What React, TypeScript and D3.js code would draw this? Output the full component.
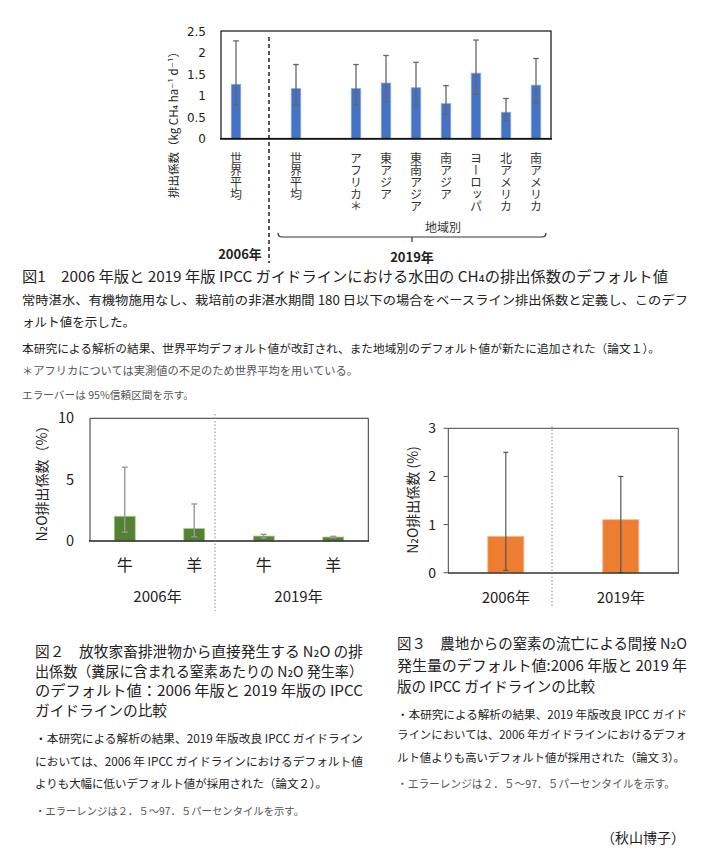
import React from 'react';
import * as d3 from 'd3';

// ---------- Figure 1 data (CH4 emission factors, kg CH4 ha-1 d-1) ----------
const ch4Slots = ['2006世界平均', 'div', '2019世界平均', 'gap', 'アフリカ', '東アジア', '東南アジア', '南アジア', 'ヨーロッパ', '北アメリカ', '南アメリカ'];
const ch4Keys = ['2006世界平均', '2019世界平均', 'アフリカ', '東アジア', '東南アジア', '南アジア', 'ヨーロッパ', '北アメリカ', '南アメリカ'];
const ch4Labels = ['世界平均', '世界平均', 'アフリカ＊', '東アジア', '東南アジア', '南アジア', 'ヨーロッパ', '北アメリカ', '南アメリカ'];
const ch4Mean = [1.26, 1.16, 1.16, 1.29, 1.18, 0.81, 1.52, 0.61, 1.24];
const ch4Lo = [0.78, 0.78, 0.78, 0.85, 0.8, 0.56, 1.03, 0.41, 0.83];
const ch4Hi = [2.27, 1.72, 1.72, 1.93, 1.77, 1.23, 2.29, 0.93, 1.86];
const ch4Ticks = [0, 0.5, 1, 1.5, 2, 2.5];

// ---------- Figure 2 data (N2O from grazing animals, %) ----------
const n2oKeys = ['2006-牛', '2006-羊', '2019-牛', '2019-羊'];
const n2oAnimals = ['牛', '羊', '牛', '羊'];
const n2oYears = ['2006年', '2019年'];
const n2oMean = [2.0, 1.0, 0.38, 0.3];
const n2oLo = [0.7, 0.33, 0.22, 0.24];
const n2oHi = [6.0, 3.0, 0.52, 0.36];
const n2oTicks = [0, 5, 10];

// ---------- Figure 3 data (indirect N2O, %) ----------
const ef5Years = ['2006年', '2019年'];
const ef5Mean = [0.75, 1.1];
const ef5Lo = [0.05, 0.0];
const ef5Hi = [2.5, 2.0];
const ef5Ticks = [0, 1, 2, 3];

const JP = '"Noto Sans CJK JP", "Noto Sans CJK SC", "DejaVu Sans", sans-serif';
const NUM = '"DejaVu Sans", Verdana, sans-serif';

function ErrBar({ x, y0, y1, cap, color, w }: any) {
  return (
    <g stroke={color} strokeWidth={w}>
      <line x1={x} x2={x} y1={y0} y2={y1} />
      <line x1={x - cap} x2={x + cap} y1={y0} y2={y0} />
      <line x1={x - cap} x2={x + cap} y1={y1} y2={y1} />
    </g>
  );
}

function Fig1() {
  const x = d3.scaleBand().domain(ch4Slots).range([221, 551]);
  const y = d3.scaleLinear().domain([0, 2.5]).range([138.5, 31]);
  const bw = x.bandwidth();
  const barW = 9.5;
  const divX = (x('div') as number) + bw / 2 + 3;
  const bL = (x('2019世界平均') as number) + bw / 2 - 18;
  const bR = (x('南アメリカ') as number) + bw / 2 + 10;
  const bMid = (bL + bR) / 2;
  const regionMid = ((x('アフリカ') as number) + (x('南アメリカ') as number) + bw) / 2 - 3;
  return (
    <g>
      {ch4Ticks.map((t) => (
        <text key={t} x={206} y={y(t) + 4.5} textAnchor="end" fontFamily={NUM} fontSize={12} fill="#222">
          {String(t)}
        </text>
      ))}
      <text transform={`translate(178,${122}) rotate(-90)`} textAnchor="middle" fontFamily={JP} fontSize={11.5} fill="#222">
        排出係数（kg CH₄ ha⁻¹ d⁻¹）
      </text>
      {ch4Keys.map((k, i) => {
        const cx = (x(k) as number) + bw / 2;
        return (
          <g key={k}>
            <rect x={cx - barW / 2} y={y(ch4Mean[i])} width={barW} height={y(0) - y(ch4Mean[i])} fill="#4472C4" stroke="#8FAADC" strokeWidth={0.8} />
            <ErrBar x={cx} y0={y(ch4Lo[i])} y1={y(ch4Hi[i])} cap={2.8} color="#666" w={1.3} />
            <text x={cx} y={152} textAnchor="start" fontFamily={JP} fontSize={12} fill="#333" style={{ writingMode: 'vertical-rl' as any }}>
              {ch4Labels[i]}
            </text>
          </g>
        );
      })}
      <rect x={221} y={31} width={330} height={107.5} fill="none" stroke="#111" strokeWidth={1.2} />
      <line x1={220} x2={552} y1={138.8} y2={138.8} stroke="#111" strokeWidth={1.8} />
      <line x1={divX} x2={divX} y1={37} y2={263} stroke="#111" strokeWidth={1.4} strokeDasharray="4,3" />
      <text x={regionMid} y={231.5} textAnchor="middle" fontFamily={JP} fontSize={12} fill="#333">地域別</text>
      <path d={`M${bL},233 Q${bL},237 ${bL + 4},237 L${bR - 4},237 Q${bR},237 ${bR},233 M${bMid},237 L${bMid},242`} fill="none" stroke="#333" strokeWidth={1.2} />
      <text x={240} y={258.5} textAnchor="middle" fontFamily={JP} fontSize={13} fontWeight="bold" fill="#222">2006年</text>
      <text x={bMid} y={261.5} textAnchor="middle" fontFamily={JP} fontSize={13} fontWeight="bold" fill="#222">2019年</text>
    </g>
  );
}

function Fig2() {
  const x = d3.scaleBand().domain(n2oKeys).range([90, 368]);
  const y = d3.scaleLinear().domain([0, 10]).range([540.7, 418.3]);
  const bw = x.bandwidth();
  const barW = 21;
  const divX = 215;
  const yearCenters = [
    ((x('2006-牛') as number) + (x('2006-羊') as number) + bw) / 2,
    ((x('2019-牛') as number) + (x('2019-羊') as number) + bw) / 2,
  ];
  return (
    <g>
      {n2oTicks.map((t) => (
        <text key={t} x={74} y={y(t) + 5} textAnchor="end" fontFamily={JP} fontSize={14.5} fill="#222">{String(t)}</text>
      ))}
      <text transform="translate(47,480) rotate(-90)" textAnchor="middle" fontFamily={JP} fontSize={14} fill="#222">
        N₂O排出係数（%）
      </text>
      {n2oKeys.map((k, i) => {
        const cx = (x(k) as number) + bw / 2;
        return (
          <g key={k}>
            <rect x={cx - barW / 2} y={y(n2oMean[i])} width={barW} height={y(0) - y(n2oMean[i])} fill="#548235" stroke="#A9D18E" strokeWidth={0.8} />
            <ErrBar x={cx} y0={y(n2oLo[i])} y1={y(n2oHi[i])} cap={3} color="#999" w={1.4} />
            <text x={cx} y={571} textAnchor="middle" fontFamily={JP} fontSize={16} fill="#222">{n2oAnimals[i]}</text>
          </g>
        );
      })}
      <path d="M90,541 L90,418.3 L368.3,418.3 L368.3,541" fill="none" stroke="#333" strokeWidth={1} />
      <line x1={89} x2={369} y1={540.9} y2={540.9} stroke="#222" strokeWidth={1.5} />
      <line x1={divX} x2={divX} y1={414} y2={611} stroke="#888" strokeWidth={1} strokeDasharray="1.5,2" />
      {n2oYears.map((t, i) => (
        <text key={t} x={yearCenters[i] - (i === 0 ? 2 : 0)} y={602} textAnchor="middle" fontFamily={JP} fontSize={15} fill="#222">{t}</text>
      ))}
    </g>
  );
}

function Fig3() {
  const x = d3.scaleBand().domain(ef5Years).range([448.3, 678.3]);
  const y = d3.scaleLinear().domain([0, 3]).range([572.7, 428.3]);
  const bw = x.bandwidth();
  const barW = 36;
  const divX = 552;
  return (
    <g>
      {ef5Ticks.map((t) => (
        <g key={t}>
          <line x1={443.5} x2={448.3} y1={y(t)} y2={y(t)} stroke="#555" strokeWidth={1} />
          <text x={436} y={y(t) + 5} textAnchor="end" fontFamily={JP} fontSize={14} fill="#222">{String(t)}</text>
        </g>
      ))}
      <text transform="translate(418,500) rotate(-90)" textAnchor="middle" fontFamily={JP} fontSize={14} fill="#222">
        N₂O排出係数 (%)
      </text>
      {ef5Years.map((k, i) => {
        const cx = (x(k) as number) + bw / 2;
        return (
          <g key={k}>
            <rect x={cx - barW / 2} y={y(ef5Mean[i])} width={barW} height={y(0) - y(ef5Mean[i])} fill="#ED7D31" stroke="#F4B183" strokeWidth={0.8} />
            <ErrBar x={cx} y0={y(ef5Lo[i])} y1={y(ef5Hi[i])} cap={2.5} color="#555" w={1.2} />
            <text x={cx} y={603} textAnchor="middle" fontFamily={JP} fontSize={15} fill="#222">{k}</text>
          </g>
        );
      })}
      <path d="M448.3,572.7 L448.3,428.3 L678.3,428.3 L678.3,572.7" fill="none" stroke="#444" strokeWidth={1} />
      <line x1={448} x2={679} y1={572.9} y2={572.9} stroke="#333" strokeWidth={1.5} />
      <line x1={divX} x2={divX} y1={426} y2={608} stroke="#888" strokeWidth={1} strokeDasharray="1.5,2" />
    </g>
  );
}

function Line({ x, y, len, size, fill = '#222', children }: any) {
  return (
    <text x={x} y={y} fontFamily={JP} fontSize={size} fill={fill} textLength={len} lengthAdjust="spacingAndGlyphs">
      {children}
    </text>
  );
}

// multi-line block: one text element with a tspan per line
function Block({ x, size, fill = '#222', lines }: any) {
  return (
    <text fontFamily={JP} fontSize={size} fill={fill}>
      {lines.map((l: any, i: number) => (
        <tspan key={i} x={x} y={l.y} textLength={l.len} lengthAdjust="spacingAndGlyphs">
          {l.t}
        </tspan>
      ))}
    </text>
  );
}

export default function App() {
  return (
    <svg width={705} height={860} style={{ position: 'absolute', left: 0, top: 0, background: '#fff' }}>
      <rect width={705} height={860} fill="#fff" />
      <Fig1 />
      {/* Figure 1 caption */}
      <Line x={22} y={282} len={646} size={14.8}>
        図1　2006 年版と 2019 年版 IPCC ガイドラインにおける水田の CH₄の排出係数のデフォルト値
      </Line>
      <Block x={22} size={12.5} lines={[
        { y: 305, len: 666, t: '常時湛水、有機物施用なし、栽培前の非湛水期間 180 日以下の場合をベースライン排出係数と定義し、このデフ' },
        { y: 327, len: 113, t: 'ォルト値を示した。' },
      ]} />
      <Line x={22} y={353} len={638} size={11.8}>本研究による解析の結果、世界平均デフォルト値が改訂され、また地域別のデフォルト値が新たに追加された（論文１）。</Line>
      <Line x={22} y={375} len={336} size={11} fill="#555">＊アフリカについては実測値の不足のため世界平均を用いている。</Line>
      <Line x={22} y={399} len={172} size={10.6} fill="#555">エラーバーは 95%信頼区間を示す。</Line>

      <Fig2 />
      <Fig3 />

      {/* Figure 2 caption */}
      <Block x={35} size={14.5} lines={[
        { y: 657, len: 328, t: '図２　放牧家畜排泄物から直接発生する N₂O の排' },
        { y: 676.5, len: 328, t: '出係数（糞尿に含まれる窒素あたりの N₂O 発生率）' },
        { y: 696, len: 328, t: 'のデフォルト値：2006 年版と 2019 年版の IPCC' },
        { y: 716, len: 132, t: 'ガイドラインの比較' },
      ]} />
      <Block x={35} size={11.7} lines={[
        { y: 743, len: 328, t: '・本研究による解析の結果、2019 年版改良 IPCC ガイドライン' },
        { y: 765.5, len: 328, t: 'においては、2006 年 IPCC ガイドラインにおけるデフォルト値' },
        { y: 788, len: 292, t: 'よりも大幅に低いデフォルト値が採用された（論文２）。' },
      ]} />
      <Line x={35} y={815} len={269} size={10.7} fill="#555">・エラーレンジは２．５～97．５パーセンタイルを示す。</Line>

      {/* Figure 3 caption */}
      <Block x={397} size={14.8} lines={[
        { y: 649, len: 290, t: '図３　農地からの窒素の流亡による間接 N₂O' },
        { y: 670.5, len: 290, t: '発生量のデフォルト値:2006 年版と 2019 年' },
        { y: 692, len: 198, t: '版の IPCC ガイドラインの比較' },
      ]} />
      <Block x={397} size={11.2} lines={[
        { y: 718.5, len: 290, t: '・本研究による解析の結果、2019 年版改良 IPCC ガイド' },
        { y: 739, len: 290, t: 'ラインにおいては、2006 年ガイドラインにおけるデフォ' },
        { y: 761.5, len: 288, t: 'ルト値よりも高いデフォルト値が採用された（論文 3）。' },
      ]} />
      <Line x={397} y={787.5} len={278} size={11} fill="#555">・エラーレンジは２．５～97．５パーセンタイルを示す。</Line>

      <text x={643} y={843} textAnchor="middle" fontFamily={JP} fontSize={14} fill="#222">（秋山博子）</text>
    </svg>
  );
}
